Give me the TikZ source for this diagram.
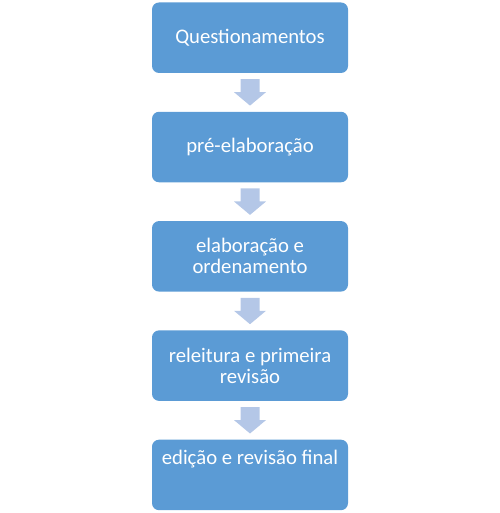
\documentclass[tikz,border=0pt]{standalone}
\usepackage{fontspec}
\setmainfont{Carlito}
\usetikzlibrary{calc}
\definecolor{boxblue}{HTML}{5B9BD5}
\definecolor{arrowblue}{HTML}{B4C7E7}
\begin{document}
\begin{tikzpicture}[x=1pt,y=1pt,
  stepbox/.style={fill=boxblue, rounded corners=7pt, minimum width=196pt, minimum height=70.5pt,
    inner sep=0pt, text=white, font=\fontsize{20.7}{21}\selectfont, align=center},
  boxtext/.style={text=white, font=\fontsize{20.7}{21}\selectfont, inner sep=0pt},
  flowarrow/.style={fill=arrowblue}]
\useasboundingbox (0,0) rectangle (499,513);
\node[stepbox] (q) at (250,475.25) {Questionamentos};
\node[stepbox] (p) at (250,365.95) {pré-elaboração};
\node[stepbox] (e) at (250,256.65) {elaboração e\\ordenamento};
\node[stepbox] (r) at (250,147.35) {releitura e primeira\\revisão};
\node[stepbox] (f) at (250,38.05) {};
\node[boxtext, anchor=base] (ft) at (250,48.2) {edição e revisão final};
\foreach \a/\b in {q/p,p/e,e/r,r/f}{
  \fill[flowarrow] ($(\a.south)+(-9.5,-6)$) -- ($(\a.south)+(9.5,-6)$) -- ($(\a.south)+(9.5,-19)$)
    -- ($(\a.south)+(16,-19)$) -- ($(\b.north)+(0,6)$) -- ($(\a.south)+(-16,-19)$)
    -- ($(\a.south)+(-9.5,-19)$) -- cycle;
}
\end{tikzpicture}
\end{document}
